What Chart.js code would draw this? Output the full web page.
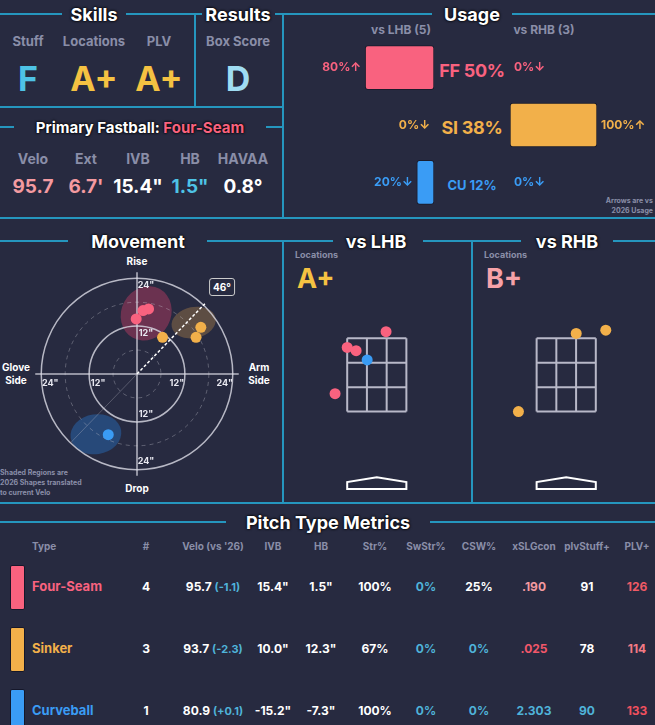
<!DOCTYPE html>
<html><head><meta charset="utf-8">
<script src="https://cdn.jsdelivr.net/npm/chart.js@4.4.0/dist/chart.umd.min.js"></script>
<style>
html,body{margin:0;padding:0;background:#272a40;}
body{width:655px;height:725px;position:relative;overflow:hidden;font-family:Inter,"Open Sans",sans-serif;font-weight:700;}
.t{position:absolute;white-space:nowrap;transform:translate(-50%,-50%);}
.l{position:absolute;white-space:nowrap;transform:translate(0,-50%);}
.h{color:#fff;font-size:18px;text-shadow:0 0 3px #000,0 0 2px #000;}
.g{color:#8a8ea8;}
.ln{position:absolute;background:#2596be;}
canvas{position:absolute;}
</style></head><body>
<div class="ln" style="left:0;top:13px;width:62px;height:2px"></div>
<div class="ln" style="left:126px;top:13px;width:76px;height:2px"></div>
<div class="ln" style="left:275px;top:13px;width:157px;height:2px"></div>
<div class="ln" style="left:512px;top:13px;width:143px;height:2px"></div>
<div class="ln" style="left:194px;top:14px;width:2px;height:93px"></div>
<div class="ln" style="left:0;top:106px;width:283px;height:2px"></div>
<div class="ln" style="left:282px;top:14px;width:2px;height:204px"></div>
<div class="ln" style="left:0;top:126px;width:14px;height:2px"></div>
<div class="ln" style="left:266px;top:126px;width:17px;height:2px"></div>
<div class="ln" style="left:0;top:217px;width:655px;height:2px"></div>
<div class="ln" style="left:0;top:240px;width:68px;height:2px"></div>
<div class="ln" style="left:207px;top:240px;width:126px;height:2px"></div>
<div class="ln" style="left:423px;top:240px;width:98px;height:2px"></div>
<div class="ln" style="left:613px;top:240px;width:42px;height:2px"></div>
<div class="ln" style="left:282px;top:241px;width:2px;height:262px"></div>
<div class="ln" style="left:471px;top:241px;width:2px;height:262px"></div>
<div class="ln" style="left:0;top:502px;width:655px;height:2px"></div>
<div class="ln" style="left:0;top:521px;width:226px;height:2px"></div>
<div class="ln" style="left:430px;top:521px;width:225px;height:2px"></div>

<div class="t h" style="left:94px;top:14px">Skills</div>
<div class="t h" style="left:238px;top:14px">Results</div>
<div class="t h" style="left:472px;top:14px">Usage</div>
<div class="t g" style="left:28px;top:41px;font-size:13px">Stuff</div>
<div class="t g" style="left:94px;top:41px;font-size:13px">Locations</div>
<div class="t g" style="left:159px;top:41px;font-size:13px">PLV</div>
<div class="t g" style="left:238px;top:41px;font-size:13px">Box Score</div>
<div class="t" style="left:28px;top:78px;font-size:34px;color:#4ec3e6">F</div>
<div class="t" style="left:94px;top:78px;font-size:34px;color:#f5c242">A+</div>
<div class="t" style="left:159px;top:78px;font-size:34px;color:#f5c242">A+</div>
<div class="t" style="left:238px;top:78px;font-size:34px;color:#9fdcf2">D</div>
<div class="t h" style="left:140px;top:127px;font-size:15px">Primary Fastball: <span style="color:#f9627f">Four-Seam</span></div>
<div class="t g" style="left:33px;top:158px;font-size:14px">Velo</div>
<div class="t g" style="left:86px;top:158px;font-size:14px">Ext</div>
<div class="t g" style="left:138px;top:158px;font-size:14px">IVB</div>
<div class="t g" style="left:190px;top:158px;font-size:14px">HB</div>
<div class="t g" style="left:243px;top:158px;font-size:14px">HAVAA</div>
<div class="t" style="left:33px;top:186px;font-size:19px;color:#f39aa0">95.7</div>
<div class="t" style="left:86px;top:186px;font-size:19px;color:#f39aa0">6.7'</div>
<div class="t" style="left:138px;top:186px;font-size:19px;color:#fff">15.4"</div>
<div class="t" style="left:190px;top:186px;font-size:19px;color:#4ec3e6">1.5"</div>
<div class="t" style="left:243px;top:186px;font-size:19px;color:#fff">0.8°</div>

<div class="t g" style="left:401px;top:29px;font-size:12px">vs LHB (5)</div>
<div class="t g" style="left:544px;top:29px;font-size:12px">vs RHB (3)</div>
<div class="t" style="left:472px;top:70px;font-size:18px;letter-spacing:-0.3px;color:#f9627f">FF 50%</div>
<div class="t" style="left:472px;top:127px;font-size:18px;letter-spacing:-0.3px;color:#f2b04a">SI 38%</div>
<div class="t" style="left:472px;top:185px;font-size:13px;color:#3a9cf5">CU 12%</div>
<div class="g" style="position:absolute;right:2px;top:196px;font-size:7px;text-align:right;line-height:10px">Arrows are vs<br>2026 Usage</div>
<canvas id="uL" width="144" height="172" style="left:290px;top:39px;width:144px;height:172px"></canvas>
<canvas id="uR" width="145" height="172" style="left:510px;top:39px;width:145px;height:172px"></canvas>

<div class="t h" style="left:138px;top:241px">Movement</div>
<div class="t h" style="left:376px;top:241px">vs LHB</div>
<div class="t h" style="left:567px;top:241px">vs RHB</div>
<div class="t" style="left:137px;top:261px;font-size:10px;color:#fff">Rise</div>
<div class="t" style="left:137px;top:488px;font-size:10px;color:#fff">Drop</div>
<div class="t" style="left:16px;top:374px;font-size:10px;color:#fff;text-align:center;line-height:13px">Glove<br>Side</div>
<div class="t" style="left:259px;top:374px;font-size:10px;color:#fff;text-align:center;line-height:13px">Arm<br>Side</div>
<div class="g" style="position:absolute;left:0;top:468px;font-size:7px;line-height:10px">Shaded Regions are<br>2026 Shapes translated<br>to current Velo</div>
<canvas id="mv" width="220" height="220" style="left:27px;top:264px;width:220px;height:220px"></canvas>
<div class="t" style="left:222px;top:287px;font-size:10px;color:#fff;border:1.5px solid #ccc;border-radius:3px;padding:2px 3px;background:#272a40">46°</div>

<div class="l g" style="left:295px;top:254px;font-size:9px">Locations</div>
<div class="l" style="left:297px;top:278px;font-size:27px;color:#f5c242">A+</div>
<div class="l g" style="left:484px;top:254px;font-size:9px">Locations</div>
<div class="l" style="left:486px;top:278px;font-size:27px;color:#f6a2a8">B+</div>
<canvas id="lL" width="175" height="235" style="left:290px;top:270px;width:175px;height:235px"></canvas>
<canvas id="lR" width="175" height="235" style="left:478px;top:270px;width:175px;height:235px"></canvas>

<div class="t h" style="left:328px;top:522px">Pitch Type Metrics</div>
<div id="tbl"></div>

<script>
const pitchTypes = ['FF','SI','CU'];
const pitchNames = ['Four-Seam','Sinker','Curveball'];
const pitchColors = ['#f9627f','#f2b04a','#3a9cf5'];
const usageLHB = [80,0,20];
const usageRHB = [0,100,0];
const arrowsLHB = ['↑','↓','↓'];
const arrowsRHB = ['↓','↑','↓'];

const mvHB  = [-0.2,1.5,2.9, 6.4,16.0,14.8, -7.2];
const mvIVB = [13.8,15.9,16.3, 9.2,11.7,9.2, -15.2];
const mvType= [0,0,0, 1,1,1, 2];
const shapeCx=[2.3,14.2,-10.3], shapeCy=[15.2,12.9,-15.1], shapeRx=[6.2,5.6,6.4], shapeRy=[7.0,3.9,5.0];
const shapeRot=[0.5,-0.2,-0.15];
const shapeFill=['rgba(190,60,100,0.45)','rgba(160,120,70,0.45)','rgba(40,110,190,0.45)'];
const armAngle = 46;
const ringTicks = [6,12,18,24];

const lhbX=[0.26,-0.83,-0.58,-0.27,-1.17], lhbY=[3.68,3.25,3.16,2.91,1.99], lhbT=[0,0,0,2,0];
const rhbX=[0.28,1.11,-1.34], rhbY=[3.63,3.72,1.5], rhbT=[1,1,1];

const tblHead=['Type','#','Velo (vs \'26)','IVB','HB','Str%','SwStr%','CSW%','xSLGcon','plvStuff+','PLV+'];
const tblCount=['4','3','1'];
const tblVelo=['95.7','93.7','80.9'], tblVeloD=['(-1.1)','(-2.3)','(+0.1)'];
const tblIVB=['15.4"','10.0"','-15.2"'], tblHB=['1.5"','12.3"','-7.3"'];
const tblStr=['100%','67%','100%'], tblSw=['0%','0%','0%'], tblCSW=['25%','0%','0%'];
const tblXSLG=['.190','.025','2.303'], tblStuff=['91','78','90'], tblPLV=['126','114','133'];

function usageLabels(vals, arrows, left){
  return {id:'ul',afterDatasetsDraw(c){
    const ctx=c.ctx; ctx.save(); ctx.font='bold 12px Inter, sans-serif'; ctx.textBaseline='middle';
    c.getDatasetMeta(0).data.forEach((b,i)=>{
      ctx.fillStyle=pitchColors[i];
      const t=vals[i]+'%'+arrows[i];
      if(left){ctx.textAlign='right';ctx.fillText(t,b.x-4,b.y);}
      else{ctx.textAlign='left';ctx.fillText(t,b.x+4,b.y);}
    }); ctx.restore();}};
}
function usageChart(id, vals, arrows, left){
  new Chart(document.getElementById(id),{type:'bar',
    data:{labels:pitchTypes,datasets:[{data:vals,backgroundColor:pitchColors,borderColor:'#1a1c2c',borderWidth:1,borderRadius:3,borderSkipped:false,barThickness:44}]},
    options:{indexAxis:'y',responsive:false,animation:false,
      layout:{padding:left?{left:58}:{right:58}},
      plugins:{legend:{display:false},tooltip:{enabled:false}},
      scales:{x:{display:false,min:0,max:100,reverse:left},y:{display:false}}},
    plugins:[usageLabels(vals,arrows,left)]});
}
usageChart('uL',usageLHB,arrowsLHB,true);
usageChart('uR',usageRHB,arrowsRHB,false);

const mvBg={id:'mvbg',beforeDatasetsDraw(c){
  const ctx=c.ctx,x=c.scales.x,y=c.scales.y;
  const cx=x.getPixelForValue(0),cy=y.getPixelForValue(0),u=x.getPixelForValue(1)-cx;
  ctx.save();
  for(let i=0;i<3;i++){ctx.fillStyle=shapeFill[i];ctx.beginPath();
    ctx.ellipse(x.getPixelForValue(shapeCx[i]),y.getPixelForValue(shapeCy[i]),shapeRx[i]*u,shapeRy[i]*u,shapeRot[i],0,Math.PI*2);ctx.fill();}
  ringTicks.forEach(r=>{ctx.beginPath();ctx.strokeStyle=r%12?'rgba(200,200,210,0.35)':'rgba(220,220,230,0.8)';
    ctx.lineWidth=r%12?1:1.5;ctx.setLineDash(r%12?[4,4]:[]);ctx.arc(cx,cy,r*u,0,Math.PI*2);ctx.stroke();});
  ctx.setLineDash([]);ctx.strokeStyle='rgba(220,220,230,0.8)';ctx.lineWidth=1.5;
  ctx.beginPath();ctx.moveTo(x.getPixelForValue(-25.5),cy);ctx.lineTo(x.getPixelForValue(25.5),cy);
  ctx.moveTo(cx,y.getPixelForValue(25.5));ctx.lineTo(cx,y.getPixelForValue(-25.5));ctx.stroke();
  const a=armAngle*Math.PI/180;
  ctx.strokeStyle='rgba(200,200,210,0.3)';ctx.lineWidth=1;ctx.beginPath();ctx.moveTo(cx,cy);
  ctx.lineTo(x.getPixelForValue(-24*Math.cos(a)),y.getPixelForValue(-24*Math.sin(a)));ctx.stroke();
  ctx.strokeStyle='#fff';ctx.lineWidth=1.5;ctx.setLineDash([3,2]);ctx.beginPath();ctx.moveTo(cx,cy);
  ctx.lineTo(x.getPixelForValue(24.5*Math.cos(a)),y.getPixelForValue(24.5*Math.sin(a)));ctx.stroke();ctx.setLineDash([]);
  ctx.font='bold 9px Inter, sans-serif';ctx.fillStyle='#e8e8f0';ctx.textBaseline='middle';ctx.textAlign='center';
  [12,24].forEach(r=>{
    ctx.fillText(r+'"',cx+9,y.getPixelForValue(r)+7);
    ctx.fillText(r+'"',cx+9,y.getPixelForValue(-r)-8);
    ctx.fillText(r+'"',x.getPixelForValue(r)-8,cy+9);
    ctx.fillText(r+'"',x.getPixelForValue(-r)+9,cy+9);
  });
  ctx.restore();}};
new Chart(document.getElementById('mv'),{type:'scatter',
  data:{datasets:[{data:mvHB.map((v,i)=>({x:v,y:mvIVB[i]})),backgroundColor:mvType.map(t=>pitchColors[t]),borderWidth:0,pointRadius:5.5}]},
  options:{responsive:false,animation:false,layout:{padding:0},
    plugins:{legend:{display:false},tooltip:{enabled:false}},
    scales:{x:{display:false,min:-26.19,max:26.19},y:{display:false,min:-26.19,max:26.19}}},
  plugins:[mvBg]});

const zoneBg={id:'zone',beforeDatasetsDraw(c){
  const ctx=c.ctx,x=c.scales.x,y=c.scales.y;ctx.save();
  ctx.strokeStyle='#b8b8c8';ctx.lineWidth=2;
  const xs=[-0.83,-0.277,0.277,0.83], ys=[1.5,2.167,2.833,3.5];
  ctx.beginPath();
  xs.forEach(v=>{ctx.moveTo(x.getPixelForValue(v),y.getPixelForValue(1.5));ctx.lineTo(x.getPixelForValue(v),y.getPixelForValue(3.5));});
  ys.forEach(v=>{ctx.moveTo(x.getPixelForValue(-0.83),y.getPixelForValue(v));ctx.lineTo(x.getPixelForValue(0.83),y.getPixelForValue(v));});
  ctx.stroke();
  ctx.strokeStyle='#fff';ctx.lineWidth=2;ctx.beginPath();
  const P=[[-0.83,-0.61],[0.83,-0.61],[0.83,-0.42],[0,-0.29],[-0.83,-0.42]];
  P.forEach((p,i)=>{const px=x.getPixelForValue(p[0]),py=y.getPixelForValue(p[1]);i?ctx.lineTo(px,py):ctx.moveTo(px,py);});
  ctx.closePath();ctx.stroke();ctx.restore();}};
function locChart(id,xs,ys,ts,xmin,xmax){
  new Chart(document.getElementById(id),{type:'scatter',
    data:{datasets:[{data:xs.map((v,i)=>({x:v,y:ys[i]})),backgroundColor:ts.map(t=>pitchColors[t]),borderWidth:0,pointRadius:5.5}]},
    options:{responsive:false,animation:false,layout:{padding:0},
      plugins:{legend:{display:false},tooltip:{enabled:false}},
      scales:{x:{display:false,min:xmin,max:xmax},y:{display:false,min:-0.895,max:5.21}}},
    plugins:[zoneBg]});
}
locChart('lL',lhbX,lhbY,lhbT,-2.28,2.32);
locChart('lR',rhbX,rhbY,rhbT,-2.32,2.28);

const colX=[32,146,213,273,321,375,426,479,534,587,637];
const rowY=[586,648,710];
let h='';
tblHead.forEach((t,i)=>{h+=`<div class="${i?'t':'l'} g" style="left:${colX[i]}px;top:546px;font-size:10px">${t}</div>`;});
const teal='#4fb3d9';
const xslgC=['#f39aa0','#f2576a',teal], stuffC=['#fff','#fff',teal], plvC=['#f05a66','#f37a85','#f0505e'];
const cswC=['#fff',teal,teal];
for(let r=0;r<3;r++){
  const y=rowY[r];
  h+=`<div style="position:absolute;left:10px;top:${y-21}px;width:13px;height:43px;background:${pitchColors[r]};border:1px solid #15172a;border-radius:2px"></div>`;
  h+=`<div class="l" style="left:32px;top:${y}px;font-size:13px;color:${pitchColors[r]}">${pitchNames[r]}</div>`;
  const cells=[[tblCount[r],'#fff'],[`${tblVelo[r]} <span style="color:${teal};font-size:11px">${tblVeloD[r]}</span>`,'#fff'],[tblIVB[r],'#fff'],[tblHB[r],'#fff'],[tblStr[r],'#fff'],[tblSw[r],teal],[tblCSW[r],cswC[r]],[tblXSLG[r],xslgC[r]],[tblStuff[r],stuffC[r]],[tblPLV[r],plvC[r]]];
  cells.forEach((c,i)=>{h+=`<div class="t" style="left:${colX[i+1]}px;top:${y}px;font-size:12px;color:${c[1]}">${c[0]}</div>`;});
}
document.getElementById('tbl').innerHTML=h;
</script>
</body></html>
